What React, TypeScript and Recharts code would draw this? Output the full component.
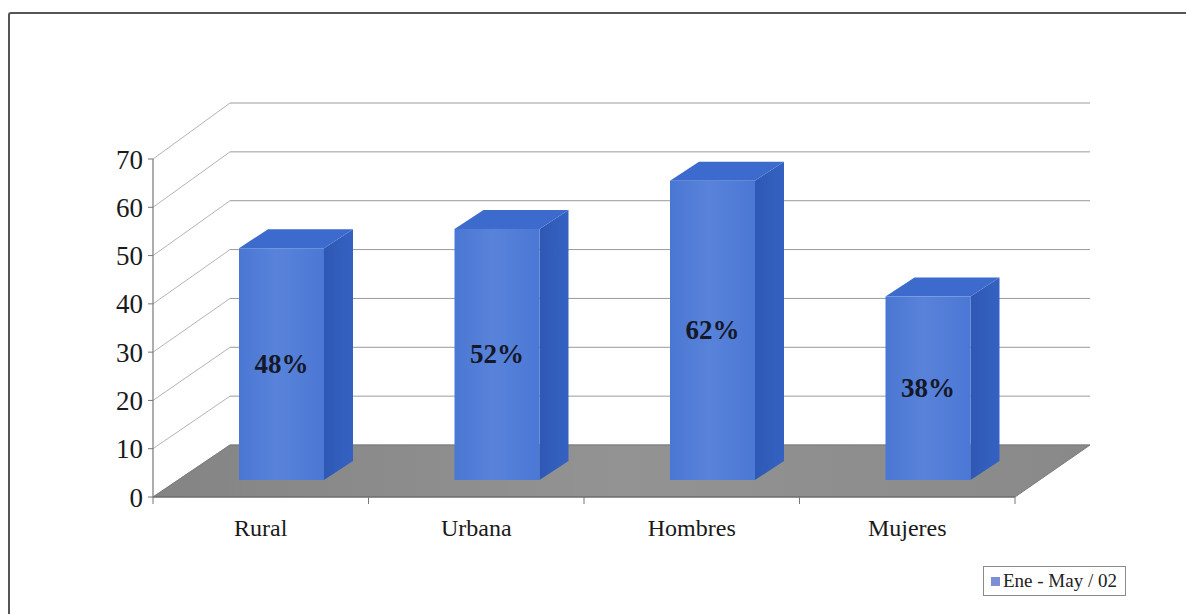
import React from 'react';
import { BarChart, Bar, XAxis, YAxis, CartesianGrid, LabelList, Legend } from 'recharts';

const categories = ['Rural', 'Urbana', 'Hombres', 'Mujeres'];
const values = [48, 52, 62, 38];
const yTicks = [0, 10, 20, 30, 40, 50, 60, 70];
const seriesName = 'Ene - May / 02';

const data = categories.map((c, i) => ({ name: c, value: values[i] }));

const FONT = '"Liberation Serif", "Times New Roman", serif';

// 3D geometry (styling)
const BACK_DX = 77;
const BACK_RIGHT_DX = 75;
const BACK_K = 342 / 338;
const BACK_BOTTOM_DY = -52;
const SHIFT_X = 21;
const SHIFT_Y = -17;
const DEPTH_X = 29;
const DEPTH_Y = -19;

const GridLine = (props: any) => {
  const { x1, x2, y1, index } = props;
  const bottom = props.y != null && props.height != null ? props.y + props.height : 497;
  const backBottom = bottom + BACK_BOTTOM_DY;
  const by = backBottom + (y1 - bottom) * BACK_K;
  const bxl = x1 + BACK_DX;
  const bxr = x2 + BACK_RIGHT_DX;
  const isFloor = Math.abs(y1 - bottom) < 1;
  return (
    <g key={`g-${index}`}>
      <line x1={x1} y1={y1} x2={bxl} y2={by} stroke="#b4b4b4" strokeWidth={1} />
      <line x1={bxl} y1={by} x2={bxr} y2={by} stroke="#9a9a9a" strokeWidth={1} />
      {isFloor && (
        <polygon
          points={`${x1},${y1} ${x2},${y1} ${bxr},${by} ${bxl},${by}`}
          fill="url(#floorGrad)"
          stroke="#7a7a7a"
          strokeWidth={1}
        />
      )}
    </g>
  );
};

const Box3D = (props: any) => {
  const { x, y, width, height } = props;
  const fx = x + SHIFT_X;
  const fy = y + SHIFT_Y;
  const w = width;
  const h = height;
  return (
    <g>
      <polygon
        points={`${fx + w},${fy} ${fx + w + DEPTH_X},${fy + DEPTH_Y} ${fx + w + DEPTH_X},${fy + h + DEPTH_Y} ${fx + w},${fy + h}`}
        fill="url(#sideGrad)"
      />
      <polygon
        points={`${fx},${fy} ${fx + DEPTH_X},${fy + DEPTH_Y} ${fx + w + DEPTH_X},${fy + DEPTH_Y} ${fx + w},${fy}`}
        fill="#3d6acd"
      />
      <rect x={fx} y={fy} width={w} height={h} fill="url(#faceGrad)" />
    </g>
  );
};

const BarLabel = (props: any) => {
  const { x, y, width, height, value } = props;
  return (
    <text
      x={x + SHIFT_X + width / 2}
      y={y + SHIFT_Y + height / 2}
      textAnchor="middle"
      dominantBaseline="central"
      fontFamily={FONT}
      fontWeight="bold"
      fontSize={27}
      fill="#141828"
    >
      {`${value}%`}
    </text>
  );
};

const XTick = (props: any) => {
  const { x, y, payload, index } = props;
  const half = 862 / categories.length / 2;
  const axisY = y;
  return (
    <g>
      {index === 0 && <line x1={x - half} y1={axisY} x2={x - half} y2={axisY + 7} stroke="#777" />}
      <line x1={x + half} y1={axisY} x2={x + half} y2={axisY + 7} stroke="#777" />
      <text
        x={x}
        y={axisY + 31}
        textAnchor="middle"
        dominantBaseline="central"
        fontFamily={FONT}
        fontSize={24}
        fill="#1a1a1a"
      >
        {payload.value}
      </text>
    </g>
  );
};

const LegendContent = () => (
  <div
    style={{
      border: '1px solid #8a8a8a',
      background: '#fff',
      padding: '3px 8px 3px 7px',
      display: 'flex',
      alignItems: 'center',
      fontFamily: FONT,
      fontSize: 19,
      color: '#222',
      whiteSpace: 'nowrap',
      boxSizing: 'border-box',
      height: 30,
    }}
  >
    <span style={{ display: 'inline-block', width: 9, height: 9, background: '#7f8fd6', marginRight: 3 }} />
    {seriesName}
  </div>
);

export default function App() {
  return (
    <div style={{ position: 'fixed', left: 0, top: 0, width: 1186, height: 614, background: '#fff', overflow: 'hidden' }}>
      <div
        style={{
          position: 'absolute',
          left: 8,
          top: 12,
          width: 1200,
          height: 620,
          borderLeft: '2px solid #555',
          borderTop: '2px solid #555',
          borderTopLeftRadius: 3,
        }}
      />
      <div style={{ position: 'absolute', left: 0, top: 0 }}>
        <BarChart
          width={1186}
          height={614}
          data={data}
          margin={{ top: 159, right: 171, bottom: 87, left: 0 }}
          barSize={85}
        >
          <defs>
            <linearGradient id="faceGrad" x1="0" y1="0" x2="1" y2="0">
              <stop offset="0%" stopColor="#4a77d3" />
              <stop offset="45%" stopColor="#5983da" />
              <stop offset="100%" stopColor="#4b78d5" />
            </linearGradient>
            <linearGradient id="sideGrad" x1="0" y1="0" x2="1" y2="0">
              <stop offset="0%" stopColor="#2e58b4" />
              <stop offset="100%" stopColor="#3562c2" />
            </linearGradient>
            <linearGradient id="floorGrad" x1="0" y1="0" x2="1" y2="0">
              <stop offset="0%" stopColor="#848484" />
              <stop offset="50%" stopColor="#939393" />
              <stop offset="100%" stopColor="#898989" />
            </linearGradient>
          </defs>
          <CartesianGrid vertical={false} horizontal={GridLine} />
          <XAxis
            dataKey="name"
            height={30}
            tickSize={0}
            tickMargin={0}
            tickLine={false}
            axisLine={{ stroke: '#666', strokeWidth: 1.2 }}
            tick={<XTick />}
            interval={0}
          />
          <YAxis
            width={153}
            domain={[0, 70]}
            ticks={yTicks}
            interval={0}
            tickSize={5}
            tickMargin={5}
            axisLine={{ stroke: '#777', strokeWidth: 1.2 }}
            tickLine={{ stroke: '#777' }}
            tick={{ fontFamily: FONT, fontSize: 27, fill: '#1a1a1a' }}
          />
          <Legend
            layout="horizontal"
            verticalAlign="middle"
            align="center"
            content={<LegendContent />}
            wrapperStyle={{ left: 983, top: 566, width: 'auto', height: 'auto' }}
          />
          <Bar dataKey="value" name={seriesName} shape={<Box3D />} isAnimationActive={false}>
            <LabelList dataKey="value" content={<BarLabel />} />
          </Bar>
        </BarChart>
      </div>
    </div>
  );
}
